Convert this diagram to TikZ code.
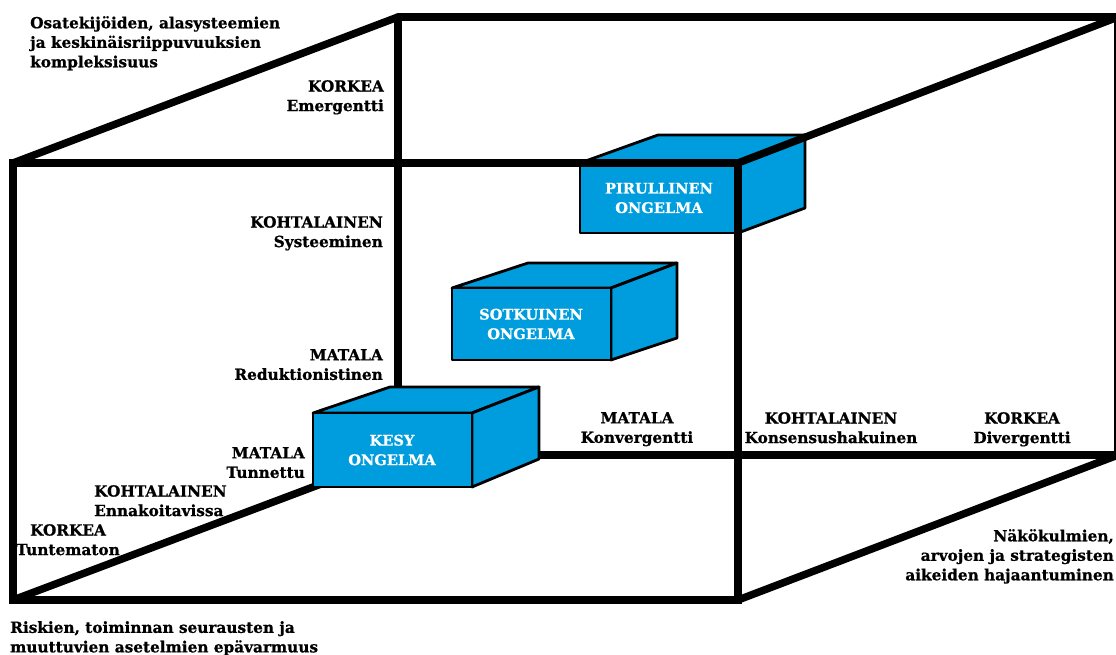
\documentclass[tikz,border=0pt]{standalone}
\usepackage{fontspec}
\setmainfont{DejaVu Serif}[BoldFeatures={FakeBold=0.8}]
\begin{document}
\begin{tikzpicture}[x=1pt,y=-1pt,
  frame/.style={line width=7.5pt,line join=round},
  boxface/.style={draw=black,line width=2.8pt,fill=boxblue,line join=round},
  lbl/.style={inner sep=0pt,font=\bfseries\fontsize{15.3}{19.5}\selectfont},
  boxlbl/.style={inner sep=0pt,align=center,text=white,font=\bfseries\fontsize{14.6}{19.5}\selectfont}]
\definecolor{boxblue}{RGB}{0,157,222}
\useasboundingbox (0,0) rectangle (1116,655);
\fill[white] (0,0) rectangle (1116,655);
% corners of the frame
\coordinate (FTL) at (13,163);
\coordinate (FTR) at (738,163);
\coordinate (FBL) at (13,600);
\coordinate (FBR) at (738,600);
\coordinate (BTL) at (398,17);
\coordinate (BTR) at (1118,17);
\coordinate (BBL) at (398,455);
\coordinate (BBR) at (1118,455);
% back edges
\draw[frame] (BTL) -- (BTR) -- (BBR) -- (BBL) -- cycle;
\draw[frame] (FBL) -- (BBL);
% boxes
\newcommand{\probbox}[8]{%
  \draw[boxface] (#1,#4) -- (#5,#6) -- (#7,#6) -- (#2,#4) -- cycle;
  \draw[boxface] (#2,#4) -- (#7,#6) -- (#7,#8) -- (#2,#3) -- cycle;
  \draw[boxface] (#1,#4) rectangle (#2,#3);}
% \probbox{front left}{front right}{front bottom}{front top}{back left}{back top}{back right}{right bottom}
\probbox{452}{611}{360}{288}{528}{263}{677}{338}
\node[boxlbl] (sotk) at (531,324) {SOTKUINEN\\ONGELMA};
\probbox{313}{472}{487}{413}{390}{387}{539}{459}
\node[boxlbl] (kesy) at (392,450) {KESY\\ONGELMA};
\probbox{580}{738}{233}{163}{658}{135}{805}{208}
\node[boxlbl] (piru) at (659,198) {PIRULLINEN\\ONGELMA};
% front edges
\draw[frame,line join=miter] (FTL) rectangle (FBR);
\draw[frame] (FTL) -- (BTL);
\draw[frame] (FTR) -- (BTR);
\draw[frame] (FBR) -- (BBR);
% labels
\node[lbl,anchor=north west,align=left] (t1) at (30,16) {Osatekijöiden, alasysteemien\\ja keskinäisriippuvuuksien\\kompleksisuus};
\node[lbl,anchor=north east,align=right] (t2) at (384,80) {KORKEA\\Emergentti};
\node[lbl,anchor=north east,align=right] (t3) at (383,216) {KOHTALAINEN\\Systeeminen};
\node[lbl,anchor=north east,align=right] (t4) at (383,349) {MATALA\\Reduktionistinen};
\node[lbl,anchor=north east,align=right] (t5) at (305,447) {MATALA\\Tunnettu};
\node[lbl,anchor=north west,align=left] (t6) at (94,485) {KOHTALAINEN\\Ennakoitavissa};
\node[lbl,anchor=north,align=center] (t7) at (68,524) {KORKEA\\Tuntematon};
\node[lbl,anchor=north west,align=left] (t8) at (10,621) {Riskien, toiminnan seurausten ja\\muuttuvien asetelmien epävarmuus};
\node[lbl,anchor=north,align=center] (t9) at (637,412) {MATALA\\Konvergentti};
\node[lbl,anchor=north,align=center] (t10) at (831,412) {KOHTALAINEN\\Konsensushakuinen};
\node[lbl,anchor=north,align=center] (t11) at (1022,412) {KORKEA\\Divergentti};
\node[lbl,anchor=north east,align=right] (t12) at (1114,529) {Näkökulmien,\\arvojen ja strategisten\\aikeiden hajaantuminen};
\end{tikzpicture}
\end{document}
